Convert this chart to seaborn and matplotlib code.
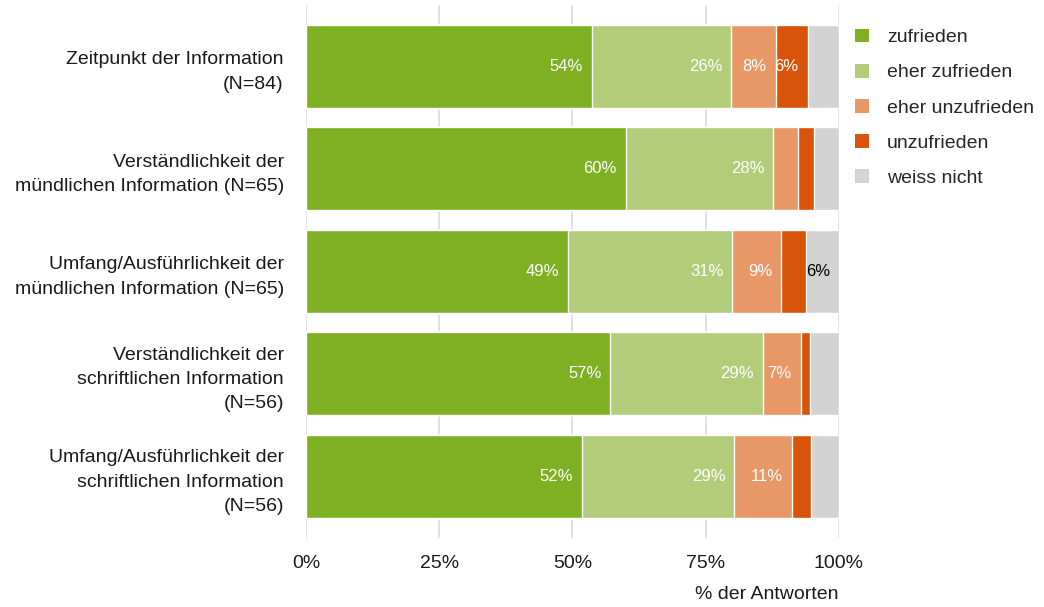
import numpy as np
import pandas as pd
import matplotlib
matplotlib.use("Agg")
import matplotlib.pyplot as plt
import seaborn as sns
from matplotlib.patches import Patch

# Items (top to bottom)
items = [
    "Zeitpunkt der Information\n(N=84)",
    "Verständlichkeit der\nmündlichen Information (N=65)",
    "Umfang/Ausführlichkeit der\nmündlichen Information (N=65)",
    "Verständlichkeit der\nschriftlichen Information\n(N=56)",
    "Umfang/Ausführlichkeit der\nschriftlichen Information\n(N=56)",
]
categories = ["zufrieden", "eher zufrieden", "eher unzufrieden", "unzufrieden", "weiss nicht"]
colors = ["#7FAF22", "#B3CC7A", "#E89866", "#D9540B", "#D3D3D3"]

# Percent of answers per category
zufrieden = [53.6, 60.0, 49.2, 57.1, 51.8]
eher_zufrieden = [26.2, 27.7, 30.8, 28.6, 28.6]
eher_unzufrieden = [8.3, 4.6, 9.2, 7.1, 10.7]
unzufrieden = [6.0, 3.1, 4.6, 1.8, 3.6]
weiss_nicht = [6.0, 4.6, 6.2, 5.4, 5.4]

df = pd.DataFrame({
    "item": items,
    "zufrieden": zufrieden,
    "eher zufrieden": eher_zufrieden,
    "eher unzufrieden": eher_unzufrieden,
    "unzufrieden": unzufrieden,
    "weiss nicht": weiss_nicht,
})
cum = df[categories].cumsum(axis=1)

sns.set_theme(style="white")
plt.rcParams["font.family"] = ["Liberation Sans", "DejaVu Sans"]

fig = plt.figure(figsize=(10.44, 6.07), dpi=100)
ax = fig.add_axes([0.2931, 0.1137, 0.8036 - 0.2931, 0.9918 - 0.1137])

# grid behind bars
for v in [0, 25, 50, 75, 100]:
    ax.axvline(v, color="#D9D9D9", lw=1.1, zorder=0)

# stacked bars: draw cumulative totals from the back to the front
for cat, col in reversed(list(zip(categories, colors))):
    sns.barplot(x=cum[cat], y=df["item"], color=col, saturation=1, width=0.81,
                orient="h", edgecolor="white", linewidth=1.0, ax=ax, zorder=2)

# value labels, right-aligned at the end of each segment
for i, row in df.iterrows():
    for cat in categories:
        val = row[cat]
        if round(val) >= 6:
            tc = "black" if cat == "weiss nicht" else "white"
            ax.annotate(f"{round(val)}%", xy=(cum.loc[i, cat], i), xytext=(-6.5, 0),
                        textcoords="offset points", ha="right", va="center",
                        fontsize=12, color=tc, zorder=3)

ax.set_xlim(0, 100)
ax.set_ylim(4.6, -0.6)
ax.set_xticks([0, 25, 50, 75, 100])
ax.set_xticklabels(["0%", "25%", "50%", "75%", "100%"])
ax.tick_params(axis="both", length=0, labelsize=14, colors="#1a1a1a")
ax.tick_params(axis="x", pad=12)
ax.tick_params(axis="y", pad=16)
for lbl in ax.get_yticklabels():
    lbl.set_linespacing(1.55)
    lbl.set_horizontalalignment("right")
ax.set_ylabel("")
ax.set_xlabel("% der Antworten", fontsize=14, color="#1a1a1a")
ax.xaxis.set_label_coords(1.0, -0.09)
ax.xaxis.label.set_horizontalalignment("right")
sns.despine(ax=ax, left=True, bottom=True)

handles = [Patch(facecolor=c, edgecolor="none") for c in colors]
fig.legend(handles, categories, loc="upper left", bbox_to_anchor=(0.819, 0.953),
           frameon=False, fontsize=14, handlelength=0.72, handleheight=0.72,
           handletextpad=0.93, labelspacing=0.9, borderaxespad=0, borderpad=0)

fig.savefig("out.png", dpi=100)
